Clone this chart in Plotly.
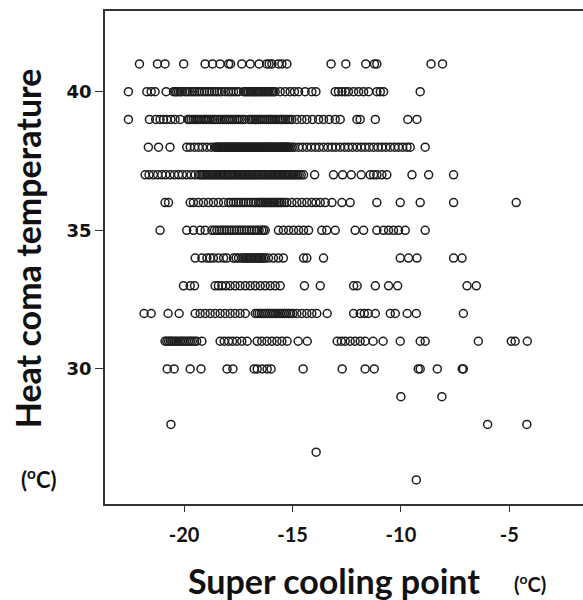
import plotly.graph_objects as go

# Super cooling point values (x, °C) grouped by heat coma temperature (y, °C)
scp_41 = [-22.06, -21.23, -20.88, -20.02, -19.03, -18.69, -18.34, -17.95, -17.86, -17.34,
          -16.95, -16.54, -16.19, -16.08, -15.95, -15.65, -15.49, -15.26, -13.22, -12.54,
          -11.62, -11.22, -11.11, -8.61, -8.08]
scp_40 = [-22.57, -21.72, -21.52, -21.34, -20.83, -20.49, -20.34, -20.18, -19.95, -19.72,
          -19.52, -19.42, -19.18, -18.95, -18.72, -18.49, -18.26, -17.95, -17.72, -17.49,
          -17.18, -17.03, -16.88, -16.72, -16.57, -16.42, -16.26, -16.11, -15.95, -15.80,
          -15.57, -15.34, -15.11, -14.91, -14.72, -14.42, -14.11, -13.92, -13.03, -12.88,
          -12.72, -12.57, -12.42, -12.18, -11.95, -11.72, -11.49, -11.11, -10.95, -10.80,
          -9.11,
          -20.41, -20.26, -20.10, -19.85, -19.62, -19.30, -19.06, -18.84, -18.60, -18.38,
          -18.10, -17.84, -17.60, -17.25, -17.10, -16.95, -16.80, -16.64, -16.50, -16.34,
          -16.18, -16.03, -15.88]
scp_39 = [-22.57, -21.60, -21.31, -21.11, -20.95, -20.80, -20.61, -20.42, -20.18, -19.83,
          -19.68, -19.49, -19.31, -19.11, -18.95, -18.75, -18.57, -18.34, -18.14, -17.95,
          -17.77, -17.57, -17.42, -17.22, -17.00, -16.80, -16.65, -16.49, -16.29, -16.11,
          -15.95, -15.77, -15.57, -15.42, -15.22, -15.03, -14.80, -14.57, -14.34, -14.08,
          -13.80, -13.57, -13.31, -13.03, -12.80, -12.03, -11.88, -11.18, -9.68, -9.26,
          -19.76, -19.58, -19.40, -19.22, -19.03, -18.85, -18.66, -18.46, -18.24, -18.05,
          -17.86, -17.67, -17.50, -17.32, -16.90, -16.72, -16.57, -16.39, -16.20, -16.03,
          -15.86, -15.67, -15.50, -15.32, -15.12]
scp_38 = [-21.65, -21.18, -20.65, -19.88, -19.72, -19.52, -19.34, -19.15, -18.95, -18.75,
          -18.57, -18.48, -18.38, -18.29, -18.18, -18.08, -17.98, -17.89, -17.80, -17.71,
          -17.62, -17.52, -17.42, -17.31, -17.22, -17.12, -17.03, -16.94, -16.85, -16.75,
          -16.65, -16.54, -16.45, -16.35, -16.26, -16.17, -16.08, -15.98, -15.88, -15.77,
          -15.68, -15.59, -15.49, -15.40, -15.31, -15.22, -15.11, -14.91, -14.72, -14.54,
          -14.34, -14.14, -13.95, -13.77, -13.57, -13.37, -13.18, -13.00, -12.80, -12.60,
          -12.42, -12.23, -12.03, -11.83, -11.65, -11.46, -11.26, -11.06, -10.88, -10.69,
          -10.49, -10.29, -10.11, -9.92, -9.72, -9.57, -8.88,
          -18.52, -18.43, -18.34, -18.24, -18.13, -18.03, -17.94, -17.85, -17.76, -17.67,
          -17.57, -17.47, -17.37, -17.27, -17.17, -17.08, -16.99, -16.90, -16.80, -16.70,
          -16.60, -16.50, -16.40, -16.31, -16.22, -16.12, -16.03, -15.93, -15.83, -15.73,
          -15.64, -15.54, -15.45, -15.35, -15.27, -15.17, -15.01]
scp_37 = [-21.80, -21.62, -21.42, -21.22, -21.03, -20.85, -20.65, -20.45, -20.26, -20.08,
          -19.88, -19.68, -19.49, -19.31, -19.15, -19.00, -18.85, -18.69, -18.54, -18.38,
          -18.23, -18.08, -17.92, -17.77, -17.62, -17.46, -17.31, -17.15, -17.00, -16.85,
          -16.69, -16.54, -16.38, -16.23, -16.08, -15.92, -15.77, -15.62, -15.46, -15.31,
          -15.15, -15.00, -14.85, -14.69, -14.49, -13.98, -13.11, -12.69, -12.29, -11.83,
          -11.42, -11.26, -11.11, -10.88, -10.65, -9.49, -8.72, -7.57,
          -19.23, -19.08, -18.92, -18.77, -18.62, -18.46, -18.31, -18.15, -18.00, -17.85,
          -17.70, -17.54, -17.38, -17.23, -17.08, -16.92, -16.77, -16.62, -16.46, -16.31,
          -16.15, -16.00, -15.85, -15.70, -15.54, -15.38, -15.23, -15.08, -14.92, -14.77,
          -14.60]
scp_36 = [-20.88, -20.72, -19.72, -19.57, -19.34, -19.11, -18.88, -18.65, -18.42, -18.18,
          -17.95, -17.72, -17.49, -17.26, -17.03, -16.80, -16.57, -16.42, -16.26, -16.11,
          -15.95, -15.80, -15.65, -15.49, -15.26, -15.03, -14.80, -14.57, -14.34, -14.11,
          -13.92, -13.72, -13.49, -13.18, -12.72, -12.34, -11.11, -10.03, -9.11, -7.57,
          -4.68,
          -17.84, -17.60, -17.38, -17.15, -16.92, -16.69, -16.50, -16.34, -16.19, -16.03,
          -15.88, -15.72, -15.57, -15.38]
scp_35 = [-21.11, -19.88, -19.57, -19.26, -19.03, -18.72, -18.49, -18.26, -18.03, -17.80,
          -17.57, -17.34, -17.11, -16.88, -16.65, -16.42, -16.26, -15.65, -15.42, -15.18,
          -14.95, -14.72, -14.49, -14.26, -13.65, -13.42, -13.03, -12.11, -11.72, -11.11,
          -10.80, -10.57, -10.34, -10.11, -9.80, -8.88,
          -18.60, -18.38, -18.15, -17.92, -17.69, -17.46, -17.23, -17.00, -16.77, -16.54,
          -16.34]
scp_34 = [-19.49, -19.18, -18.95, -18.80, -18.65, -18.42, -18.18, -18.03, -17.72, -17.49,
          -17.34, -17.18, -17.03, -16.88, -16.72, -16.57, -16.42, -16.26, -16.11, -15.88,
          -15.65, -15.42, -14.49, -14.34, -13.57, -10.03, -9.65, -9.26, -7.57, -7.18,
          -17.60, -17.26, -17.10, -16.95, -16.80, -16.65, -16.50, -16.34]
scp_33 = [-20.03, -19.72, -19.52, -18.57, -18.42, -18.26, -18.08, -17.88, -17.65, -17.42,
          -17.18, -16.95, -16.72, -16.49, -16.26, -16.03, -15.80, -15.57, -14.45, -13.72,
          -12.18, -12.02, -11.18, -10.57, -10.15, -6.95, -6.52]
scp_32 = [-21.85, -21.52, -20.74, -20.23, -19.49, -19.26, -19.03, -18.80, -18.57, -18.34,
          -18.11, -17.88, -17.65, -17.42, -17.18, -16.72, -16.54, -16.34, -16.15, -15.95,
          -15.77, -15.57, -15.37, -15.18, -14.98, -14.80, -14.57, -14.34, -14.11, -13.88,
          -13.40, -12.18, -11.88, -11.69, -11.51, -11.18, -10.49, -10.26, -9.71, -9.29,
          -7.12,
          -16.63, -16.44, -16.25, -16.05, -15.86, -15.67, -15.47, -15.28, -15.08]
scp_31 = [-20.88, -20.72, -20.57, -20.38, -20.18, -20.00, -19.80, -19.62, -19.42, -19.18,
          -18.34, -18.15, -17.95, -17.77, -17.57, -17.34, -17.09, -16.63, -16.42, -16.18,
          -15.95, -15.72, -15.49, -15.25, -14.74, -14.32, -12.94, -12.75, -12.57, -12.34,
          -12.11, -11.88, -11.65, -11.28, -10.82, -10.03, -9.11, -8.88, -6.43, -4.91,
          -4.73, -4.17,
          -20.80, -20.64, -20.47, -20.28, -20.09, -19.90, -19.71, -19.52]
scp_30 = [-20.78, -20.46, -19.72, -19.22, -18.02, -17.75, -16.77, -16.63, -16.40, -16.17,
          -15.99, -14.51, -12.71, -11.65, -11.23, -9.20, -9.11, -8.32, -7.17, -7.12]
scp_29 = [-10.00, -8.11]
scp_28 = [-20.61, -6.00, -4.19]
scp_27 = [-13.91]
scp_26 = [-9.29]

rows = {41: scp_41, 40: scp_40, 39: scp_39, 38: scp_38, 37: scp_37, 36: scp_36,
        35: scp_35, 34: scp_34, 33: scp_33, 32: scp_32, 31: scp_31, 30: scp_30,
        29: scp_29, 28: scp_28, 27: scp_27, 26: scp_26}

x_vals, y_vals = [], []
for hct, scps in rows.items():
    for v in scps:
        x_vals.append(v)
        y_vals.append(hct)

x_ticks = [-20, -15, -10, -5]
y_ticks = [30, 35, 40]

fig = go.Figure(go.Scatter(
    x=x_vals, y=y_vals, mode="markers",
    marker=dict(symbol="circle-open", size=8, color="#1e1e1e", line=dict(width=1.5, color="#1e1e1e")),
    showlegend=False, hoverinfo="x+y",
))

fig.update_layout(
    width=583, height=600,
    margin=dict(l=105, r=0, t=11, b=96),
    paper_bgcolor="white", plot_bgcolor="white",
    xaxis=dict(range=[-23.65, -1.6], tickvals=x_ticks, ticktext=["<b>%d</b>" % t for t in x_ticks],
               showgrid=False, zeroline=False, showline=True, linecolor="#333333", linewidth=1.5,
               mirror=True, ticks="outside", ticklen=6, tickcolor="#333333", ticklabelstandoff=6,
               tickfont=dict(family="Lato", size=20, color="#111111")),
    yaxis=dict(range=[25.13, 42.91], tickvals=y_ticks, ticktext=["<b>%d</b>" % t for t in y_ticks],
               showgrid=False, zeroline=False, showline=True, linecolor="#333333", linewidth=1.5,
               ticks="outside", ticklen=8, tickcolor="#333333",
               tickfont=dict(family="DejaVu Sans", size=18, color="#111111")),
    annotations=[
        dict(text="<b>Heat coma temperature</b>", xref="paper", yref="paper",
             x=-0.163, y=0.519, textangle=-90, showarrow=False,
             font=dict(family="Lato", size=34, color="#111111"), xanchor="center", yanchor="middle"),
        dict(text="<b>(<sup>o</sup>C)</b>", xref="paper", yref="paper",
             x=-0.140, y=0.051, showarrow=False,
             font=dict(family="Lato", size=22, color="#111111"), xanchor="center", yanchor="middle"),
        dict(text="<b>Super cooling point</b>", xref="paper", yref="paper",
             x=0.48, y=-0.156, showarrow=False,
             font=dict(family="Lato", size=34, color="#111111"), xanchor="center", yanchor="middle"),
        dict(text="<b>(<sup>o</sup>C)</b>", xref="paper", yref="paper",
             x=0.89, y=-0.160, showarrow=False,
             font=dict(family="Lato", size=20, color="#111111"), xanchor="center", yanchor="middle"),
    ],
)

fig.write_html("out.html", config={"displayModeBar": False},
               post_script="document.body.style.margin='0';")
